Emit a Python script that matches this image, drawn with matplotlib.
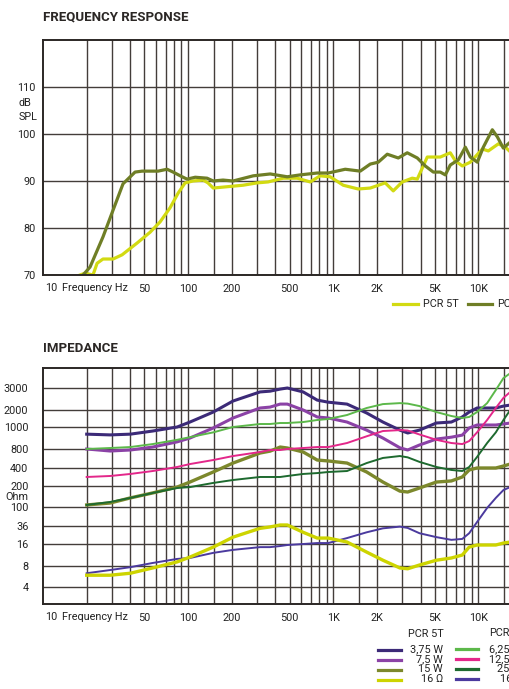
import numpy as np
import matplotlib
matplotlib.use('Agg')
import matplotlib.pyplot as plt
from matplotlib.lines import Line2D
from matplotlib.ticker import FixedLocator, FixedFormatter, NullLocator

plt.rcParams['font.family'] = ['Roboto', 'DejaVu Sans']

# frequency response, dB SPL
fr_5t_hz = [18.0, 19.5, 22.1, 23.6, 25.9, 30.4, 35.1, 44.5, 54.7, 64.1, 75.1, 85.3, 95.3,
            108, 127, 137, 149, 174, 239, 299, 356, 452, 565, 694, 813, 953, 1172, 1487,
            1800, 2283, 2593, 2991, 3505, 3796, 4449, 5469, 6410, 6941, 7757, 8806,
            10660, 11720, 13740, 15360, 16620]
fr_5t_db = [70.0, 70.4, 70.0, 72.5, 73.4, 73.4, 74.3, 76.8, 79.1, 81.3, 84.3, 87.4, 89.6,
            90.0, 90.2, 89.6, 88.5, 88.7, 89.1, 89.6, 89.8, 90.6, 90.6, 89.8, 91.1, 90.9,
            89.1, 88.3, 88.5, 89.6, 87.9, 89.8, 90.6, 90.4, 95.1, 95.1, 96.0, 94.3, 93.2,
            94.0, 96.8, 96.4, 97.9, 97.2, 96.2]

fr_pcr_hz = [18.9, 21.1, 25.9, 30.4, 35.6, 43.1, 48.2, 54.7, 62.1, 71.6, 78.8, 90.9, 98.4,
             112, 135, 149, 174, 204, 281, 368, 482, 592, 776, 924, 1210, 1535, 1800, 2043,
             2357, 2808, 3238, 3796, 4310, 4895, 5469, 5922, 6410, 7280, 8136, 8806, 9842,
             10830, 12490, 13520, 14870, 16620]
fr_pcr_db = [70.0, 71.7, 78.1, 83.8, 89.4, 91.9, 92.1, 92.1, 92.1, 92.5, 91.9, 90.9, 90.4,
             90.8, 90.6, 90.0, 90.2, 90.0, 91.1, 91.5, 90.9, 91.3, 91.7, 91.7, 92.5, 92.1,
             93.6, 94.0, 95.7, 94.9, 96.0, 94.9, 93.2, 91.9, 91.9, 91.3, 93.4, 94.5, 97.2,
             95.1, 94.0, 97.2, 100.9, 99.4, 97.0, 98.3]

# impedance, Ohm
imp_hz = [20, 29, 40, 57, 84, 103, 149, 204, 313, 367, 431, 483, 621, 776, 924, 1245, 1700,
          2200, 2880, 3260, 3930, 5140, 6520, 7750, 8650, 9800, 11500, 13200, 14900, 16600]

pcr5t_375w = [930, 923, 930, 960, 1000, 1224, 1840, 2360, 2790, 2830, 2940, 3000, 2790, 2400,
              2310, 2230, 1770, 1224, 969, 941, 969, 1177, 1224, 1505, 1840, 2075, 2075, 2075,
              2150, 2190]
pcr5t_75w = [800, 743, 771, 816, 860, 894, 990, 1444, 2075, 2110, 2230, 2230, 2000, 1505,
             1444, 1224, 969, 894, 810, 771, 833, 885, 902, 921, 990, 1085, 1085, 1085, 1130,
             1177]
pcr5t_15w = [107, 114, 135, 159, 193, 233, 343, 479, 691, 740, 816, 808, 717, 535, 517, 479,
             343, 233, 169, 164, 187, 233, 243, 283, 371, 400, 400, 400, 430, 462]
pcr5t_16ohm = [5.9, 5.9, 6.3, 7.5, 9.1, 10.6, 14.5, 21.8, 32.4, 34.5, 38, 38, 27.1, 20.9,
               20.9, 17.5, 12.4, 9.6, 7.5, 7.3, 8.25, 9.6, 10.3, 11.3, 14.5, 15.5, 15.5, 15.5,
               16.7, 17.5]
pcr_625w = [800, 808, 816, 841, 878, 902, 947, 1000, 1130, 1130, 1177, 1177, 1224, 1330, 1385,
            1630, 2075, 2230, 2270, 2250, 2150, 1840, 1565, 1444, 1505, 1840, 2270, 2890, 3600,
            3940]
pcr_125w = [283, 294, 318, 356, 415, 462, 535, 619, 717, 771, 771, 800, 808, 816, 816, 850,
            910, 960, 969, 965, 927, 878, 850, 841, 867, 947, 1330, 2075, 2500, 2790]
pcr_25w = [107, 118, 135, 159, 187, 193, 225, 252, 283, 283, 283, 294, 318, 329, 343, 356,
           479, 577, 619, 590, 500, 415, 371, 356, 415, 598, 850, 947, 1330, 2000]
pcr_16ohm = [6.3, 7.0, 7.7, 8.8, 10.0, 10.3, 12.1, 13.3, 14.5, 14.5, 15.0, 15.5, 16, 16.7,
             16.7, 20.9, 27.1, 32.4, 35, 33, 26.0, 21.8, 19.3, 20.1, 26.0, 44.5, 95, 135, 175,
             193]

fr_ticks = [50, 100, 200, 500, 1000, 2000, 5000, 10000, 20000]
fr_labels = ['50', '100', '200', '500', '1K', '2K', '5K', '10K', '20K']
db_ticks = [70, 80, 90, 100, 110]
ohm_ticks = [4, 8, 16, 36, 100, 200, 400, 800, 1000, 2000, 3000]

# colours
c_5t = '#d2da12'
c_pcr = '#6f7e26'
c_375 = '#3c2a78'
c_75 = '#8b42a6'
c_15 = '#7c882c'
c_16 = '#cdd400'
c_625 = '#5cb84a'
c_125 = '#e3278a'
c_25 = '#1e6a2f'
c_16b = '#4b3a9e'
grid_c = '#433d3a'
spine_c = '#2b2725'
text_c = '#222222'
fs = 7.8

# the impedance axis is printed with uneven steps between its marks
ohm_marks = [1, 4, 8, 16, 36, 100, 200, 400, 800, 1000, 2000, 3000, 6750]
ohm_rows = [-42, 0, 21, 43, 61, 80, 101, 119, 138, 160, 177, 199, 243]


def ohm_to_row(v):
    v = np.clip(np.asarray(v, dtype=float), 1e-3, None)
    return np.interp(np.log(v), np.log(ohm_marks), ohm_rows)


def row_to_ohm(r):
    return np.exp(np.interp(r, ohm_rows, np.log(ohm_marks)))


minor_hz = [20, 30, 40, 60, 70, 80, 90, 150, 300, 400, 600, 700, 800, 900,
            1500, 3000, 4000, 6000, 7000, 8000, 9000, 15000]

W, H = 510, 689
fig = plt.figure(figsize=(W / 100, H / 100), dpi=100)


def fx(px):
    return px / W


def fy(py):
    return 1 - py / H


def setup_freq_axis(ax, label_y):
    ax.set_xscale('log')
    ax.set_xlim(10, 20000)
    ax.xaxis.set_major_locator(FixedLocator(fr_ticks))
    ax.xaxis.set_major_formatter(FixedFormatter(fr_labels))
    ax.xaxis.set_minor_locator(FixedLocator(minor_hz))
    ax.xaxis.set_minor_formatter(FixedFormatter([''] * len(minor_hz)))
    ax.grid(True, which='both', axis='x', color=grid_c, lw=1.0)
    ax.tick_params(axis='both', which='both', length=0, labelsize=fs, colors=text_c)
    ax.tick_params(axis='x', pad=6.5)
    for s in ['top', 'left', 'bottom']:
        ax.spines[s].set_color(spine_c)
        ax.spines[s].set_linewidth(1.4)
    ax.spines['right'].set_visible(False)
    ax.text(0.004, label_y, '10', transform=ax.transAxes, ha='left', va='center',
            fontsize=fs, color=text_c)
    ax.text(0.040, label_y, 'Frequency Hz', transform=ax.transAxes, ha='left',
            va='center', fontsize=fs, color=text_c)
    ax.set_axisbelow(True)


# frequency response
ax1 = fig.add_axes([fx(43), fy(275), fx(522 - 43), 235 / H])
setup_freq_axis(ax1, -0.057)
ax1.set_ylim(70, 120)
ax1.set_yticks(db_ticks)
ax1.set_yticklabels([str(v) for v in db_ticks])
ax1.tick_params(axis='y', pad=5.5)
ax1.grid(True, axis='y', color=grid_c, lw=1.0)
ax1.text(-0.051, 0.732, 'dB', transform=ax1.transAxes, ha='left', va='center',
         fontsize=fs, color=text_c)
ax1.text(-0.051, 0.672, 'SPL', transform=ax1.transAxes, ha='left', va='center',
         fontsize=fs, color=text_c)
ax1.plot(fr_5t_hz, fr_5t_db, color=c_5t, lw=2.3, solid_joinstyle='round')
ax1.plot(fr_pcr_hz, fr_pcr_db, color=c_pcr, lw=2.3, solid_joinstyle='round')

fig.text(fx(43), fy(17), 'FREQUENCY RESPONSE', fontsize=9.5, fontweight='bold',
         color='#2b2725', ha='left', va='center')

# impedance
ax2 = fig.add_axes([fx(43), fy(604), fx(522 - 43), 236 / H])
ax2.set_yscale('function', functions=(ohm_to_row, row_to_ohm))
setup_freq_axis(ax2, -0.055)
ax2.set_ylim(row_to_ohm(-17), row_to_ohm(219))
ax2.yaxis.set_major_locator(FixedLocator(ohm_ticks))
ax2.yaxis.set_major_formatter(FixedFormatter([str(v) for v in ohm_ticks]))
ax2.yaxis.set_minor_locator(NullLocator())
ax2.tick_params(axis='y', pad=10.5)
ax2.grid(True, axis='y', which='major', color=grid_c, lw=1.0)
ax2.text(-0.031, 0.453, 'Ohm', transform=ax2.transAxes, ha='right', va='center',
         fontsize=fs, color=text_c)

imp_series = [
    (pcr5t_375w, c_375, 2.2),
    (pcr5t_75w, c_75, 2.2),
    (pcr5t_15w, c_15, 2.4),
    (pcr_625w, c_625, 1.4),
    (pcr_125w, c_125, 1.4),
    (pcr_25w, c_25, 1.4),
    (pcr_16ohm, c_16b, 1.4),
    (pcr5t_16ohm, c_16, 2.4),
]
for vals, col, lw in imp_series:
    ax2.plot(imp_hz, vals, color=col, lw=lw, solid_joinstyle='round')

fig.text(fx(43), fy(349), 'IMPEDANCE', fontsize=9.5, fontweight='bold',
         color='#2b2725', ha='left', va='center')


# legends
def legend_line(x0, x1, y, color):
    fig.add_artist(Line2D([fx(x0), fx(x1)], [fy(y), fy(y)], color=color, lw=2.3,
                          transform=fig.transFigure))


legend_line(393, 418, 304, c_5t)
fig.text(fx(423), fy(304), 'PCR 5T', fontsize=fs, ha='left', va='center', color=text_c)
legend_line(468, 492, 304, c_pcr)
fig.text(fx(497), fy(304), 'PCR', fontsize=fs, ha='left', va='center', color=text_c)

fig.text(fx(444), fy(634), 'PCR 5T', fontsize=fs, ha='right', va='center', color=text_c)
fig.text(fx(489), fy(633), 'PCR', fontsize=fs, ha='left', va='center', color=text_c)
col1 = [(c_375, '3,75 W'), (c_75, '7,5 W'), (c_15, '15 W'), (c_16, '16 Ω')]
col2 = [(c_625, '6,25 W'), (c_125, '12,5 W'), (c_25, '25 W'), (c_16b, '16 Ω')]
rows_y = [649, 659, 669, 679]
for (col, lab), y in zip(col1, rows_y):
    legend_line(378, 401, y + 1, col)
    fig.text(fx(443), fy(y), lab, fontsize=fs, ha='right', va='center', color=text_c)
for (col, lab), y in zip(col2, rows_y):
    legend_line(456, 478, y, col)
    fig.text(fx(522), fy(y), lab, fontsize=fs, ha='right', va='center', color=text_c)

fig.savefig('out.png', dpi=100)
